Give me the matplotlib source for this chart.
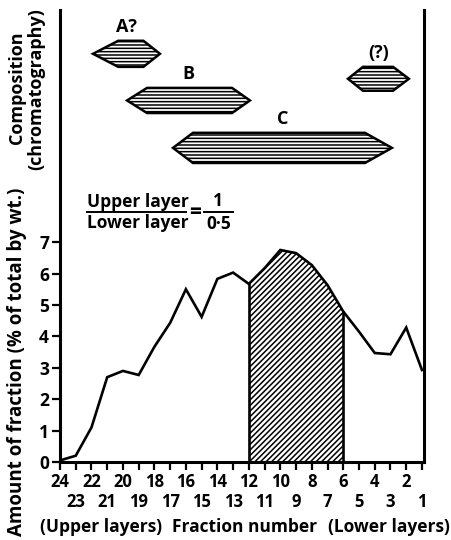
import numpy as np
import matplotlib.pyplot as plt
from matplotlib.patches import Polygon

plt.rcParams['font.family'] = ['Open Sans', 'DejaVu Sans']
plt.rcParams['font.weight'] = 'bold'
plt.rcParams['hatch.linewidth'] = 1.1

# fraction numbers and amounts (% of total by wt.)
fractions = np.arange(24, 0, -1)
amount = [0.05, 0.2, 1.1, 2.7, 2.9, 2.77, 3.67, 4.43, 5.5, 4.62, 5.83, 6.03,
          5.67, 6.17, 6.75, 6.65, 6.27, 5.63, 4.79, 4.15, 3.47, 3.43, 4.28, 2.93]

# chromatography bands: tip left, flat left, flat right, tip right, bottom, top
band_names = ['A?', 'B', 'C', '(?)']
band_tip_l = [21.9, 19.74, 16.82, 5.70]
band_flat_l = [20.3, 18.47, 15.55, 4.75]
band_flat_r = [18.7, 13.07, 4.62, 2.84]
band_tip_r = [17.65, 11.93, 2.91, 1.83]
band_low = [12.58, 11.11, 9.52, 11.82]
band_high = [13.41, 11.91, 10.48, 12.58]

shade_from, shade_to = 12, 6

fig = plt.figure(figsize=(4.52, 5.4), dpi=100)
ax = fig.add_axes([60 / 452, 1 - 462 / 540, 364 / 452, 452 / 540])

ax.plot(fractions, amount, color='k', lw=1.9, solid_joinstyle='miter')

mask = (fractions <= shade_from) & (fractions >= shade_to)
ax.fill_between(fractions[mask], 0, np.array(amount)[mask], facecolor='white',
                edgecolor='k', hatch='//////', lw=0)
for f in (shade_from, shade_to):
    ax.plot([f, f], [0, amount[24 - f]], color='k', lw=1.9)

for name, tl, fl, fr, tr, lo, hi in zip(band_names, band_tip_l, band_flat_l,
                                        band_flat_r, band_tip_r, band_low, band_high):
    mid = (lo + hi) / 2
    pts = [(tl, mid), (fl, hi), (fr, hi), (tr, mid), (fr, lo), (fl, lo)]
    ax.add_patch(Polygon(pts, closed=True, facecolor='white', edgecolor='k',
                         hatch='-----', lw=1.8))
    ax.text((tl + tr) / 2, hi + 0.15, name, ha='center', va='bottom', fontsize=13)

ax.set_xlim(24, 0.87)
ax.set_ylim(0, 14.39)
ax.set_yticks(range(8))
ax.set_yticklabels([str(i) for i in range(8)], fontsize=12.5)

even = fractions[fractions % 2 == 0]
odd = fractions[fractions % 2 == 1]
ax.set_xticks(even)
ax.set_xticklabels([str(f) for f in even], fontsize=12)
ax.set_xticks(odd, minor=True)
ax.set_xticklabels([str(f) for f in odd], minor=True, fontsize=12)
ax.tick_params(which='both', direction='out', length=6, width=1.6, pad=2)
ax.tick_params(axis='x', which='minor', pad=16)
for s in ('left', 'right', 'bottom'):
    ax.spines[s].set_linewidth(2.2)
ax.spines['top'].set_visible(False)

# partition ratio
bar_y = 0.553
ax.text(0.075, bar_y + 0.002, 'Upper layer', transform=ax.transAxes, fontsize=12.5, va='bottom')
ax.text(0.075, bar_y - 0.004, 'Lower layer', transform=ax.transAxes, fontsize=12.5, va='top')
ax.plot([0.075, 0.345], [bar_y, bar_y], transform=ax.transAxes, color='k', lw=1.4)
ax.text(0.37, bar_y, '=', transform=ax.transAxes, fontsize=15, ha='center', va='center')
ax.text(0.435, bar_y + 0.005, '1', transform=ax.transAxes, fontsize=12.5, ha='center', va='bottom')
ax.text(0.435, bar_y - 0.006, '0·5', transform=ax.transAxes, fontsize=12.5, ha='center', va='top')
ax.plot([0.395, 0.475], [bar_y, bar_y], transform=ax.transAxes, color='k', lw=1.4)

fig.text(17 / 452, 1 - 88 / 540, 'Composition', rotation=90, ha='center', va='center', fontsize=13)
fig.text(36 / 452, 1 - 89 / 540, '(chromatography)', rotation=90, ha='center', va='center', fontsize=13)
fig.text(17 / 452, 1 - 362 / 540, 'Amount of fraction (% of total by wt.)', rotation=90,
         ha='center', va='center', fontsize=13.5)

fig.text(101 / 452, 1 - 527 / 540, '(Upper layers)', ha='center', va='center', fontsize=12.5)
fig.text(245 / 452, 1 - 527 / 540, 'Fraction number', ha='center', va='center', fontsize=12.5)
fig.text(389 / 452, 1 - 527 / 540, '(Lower layers)', ha='center', va='center', fontsize=12.5)

fig.savefig('out.png', dpi=100)
